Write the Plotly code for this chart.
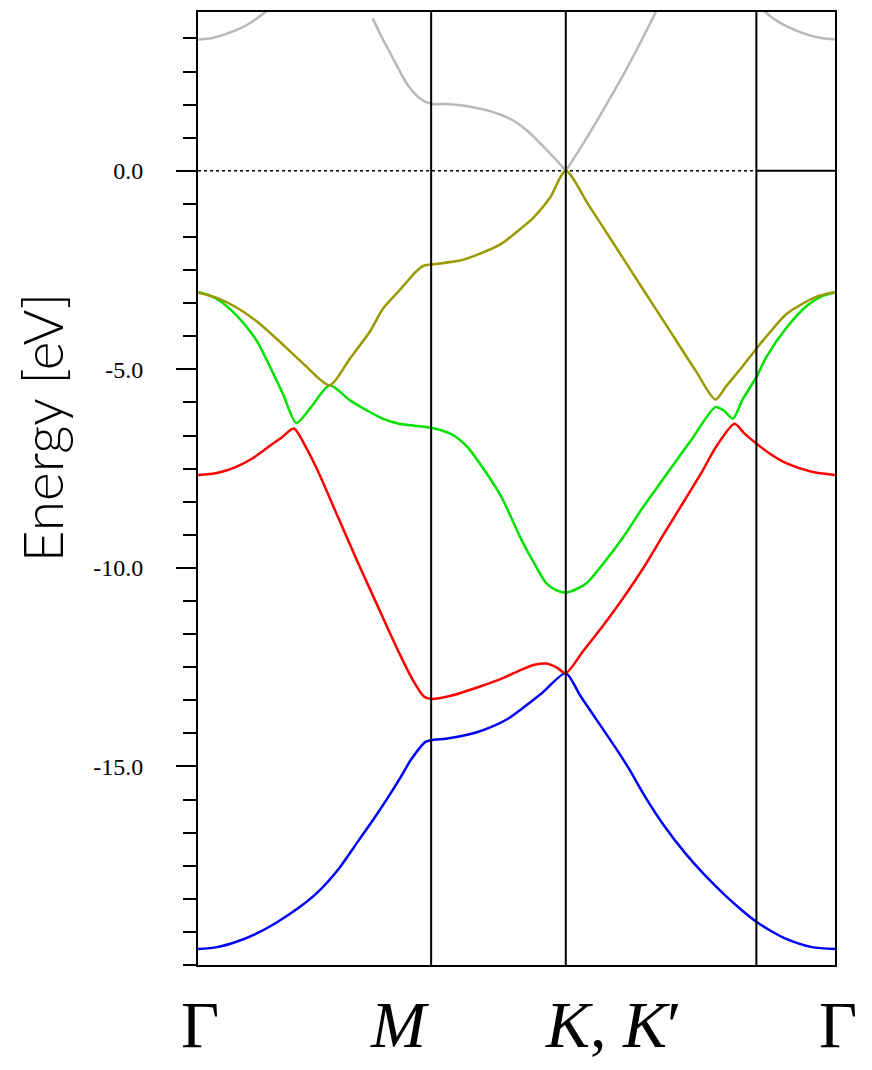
import plotly.graph_objects as go

# ---- k-path positions (Gamma, M, K, extra line, Gamma) ----
k_sym = [0.0, 0.866, 1.366, 2.074, 2.366]
sym_labels = ["Γ", "<i>M</i>", "<i>K</i>, <i>K</i>′", "Γ"]

# ---- bands (k, energy in eV) ----
blue_k = [0.0, 0.07, 0.14, 0.22, 0.292, 0.37, 0.444, 0.52, 0.595, 0.65, 0.701, 0.75, 0.792, 0.845, 0.866,
          0.92, 0.974, 1.03, 1.081, 1.156, 1.202, 1.278, 1.366,
          1.42, 1.48, 1.55, 1.60, 1.657, 1.73, 1.808, 1.88, 1.96, 2.02, 2.074, 2.13, 2.187, 2.28, 2.366]
blue_E = [-19.60, -19.55, -19.42, -19.20, -18.93, -18.58, -18.17, -17.60, -16.88, -16.35, -15.83, -15.30, -14.82, -14.38, -14.34,
          -14.30, -14.24, -14.15, -14.03, -13.78, -13.55, -13.15, -12.65,
          -13.22, -13.82, -14.52, -15.05, -15.72, -16.48, -17.17, -17.72, -18.26, -18.62, -18.91, -19.15, -19.35, -19.55, -19.60]

red_k = [0.0, 0.07, 0.14, 0.20, 0.262, 0.31, 0.356, 0.40, 0.444, 0.52, 0.595, 0.67, 0.747, 0.80, 0.838, 0.866,
         0.95, 1.05, 1.13, 1.202, 1.25, 1.293, 1.33, 1.366,
         1.43, 1.505, 1.58, 1.657, 1.73, 1.808, 1.87, 1.929, 1.993, 2.03, 2.074, 2.13, 2.187, 2.28, 2.366]
red_E = [-7.66, -7.61, -7.46, -7.25, -6.95, -6.72, -6.49, -6.95, -7.54, -8.72, -9.88, -11.00, -12.14, -12.85, -13.23, -13.30,
         -13.20, -12.98, -12.78, -12.56, -12.44, -12.41, -12.50, -12.65,
         -12.10, -11.45, -10.75, -9.97, -9.15, -8.29, -7.60, -6.90, -6.37, -6.62, -6.87, -7.15, -7.37, -7.58, -7.66]

green_k = [0.0, 0.04, 0.08, 0.125, 0.171, 0.22, 0.262, 0.315, 0.365, 0.42, 0.489, 0.565, 0.626, 0.686, 0.747, 0.792, 0.866,
           0.944, 1.0, 1.05, 1.126, 1.202, 1.25, 1.293, 1.33, 1.366,
           1.40, 1.444, 1.51, 1.581, 1.65, 1.733, 1.83, 1.922, 1.955, 1.987, 2.021, 2.074, 2.111, 2.187, 2.263, 2.32, 2.366]
green_E = [-3.06, -3.13, -3.27, -3.52, -3.85, -4.30, -4.86, -5.61, -6.35, -5.95, -5.40, -5.78, -6.03, -6.24, -6.37, -6.41, -6.47,
           -6.64, -6.95, -7.40, -8.20, -9.30, -9.90, -10.38, -10.56, -10.62,
           -10.55, -10.38, -9.85, -9.21, -8.50, -7.71, -6.80, -5.95, -6.05, -6.24, -5.78, -5.19, -4.69, -3.94, -3.39, -3.15, -3.06]

olive_k = [0.0, 0.07, 0.14, 0.22, 0.292, 0.39, 0.489, 0.565, 0.641, 0.686, 0.747, 0.808, 0.838, 0.866,
           0.974, 1.05, 1.126, 1.2, 1.247, 1.308, 1.366,
           1.45, 1.55, 1.65, 1.75, 1.85, 1.922, 1.96, 2.021, 2.074, 2.13, 2.187, 2.293, 2.366]
olive_E = [-3.06, -3.20, -3.43, -3.80, -4.23, -4.85, -5.40, -4.72, -4.02, -3.48, -3.02, -2.55, -2.39, -2.36,
           -2.26, -2.08, -1.84, -1.45, -1.17, -0.67, 0.0,
           -0.85, -1.90, -2.95, -4.00, -5.05, -5.76, -5.44, -4.94, -4.48, -4.02, -3.60, -3.18, -3.06]

grey1_k = [0.0, 0.05, 0.110, 0.16, 0.2, 0.254]
grey1_E = [3.31, 3.34, 3.46, 3.60, 3.75, 4.02]
grey2_k = [0.649, 0.68, 0.717, 0.75, 0.777, 0.823, 0.866, 0.92, 0.974, 1.03, 1.081, 1.13, 1.172, 1.22, 1.263, 1.323, 1.366]
grey2_E = [3.84, 3.40, 2.93, 2.50, 2.18, 1.83, 1.69, 1.68, 1.65, 1.59, 1.51, 1.40, 1.26, 1.03, 0.75, 0.33, 0.0]
grey3_k = [1.366, 1.43, 1.505, 1.55, 1.596, 1.65, 1.702]
grey3_E = [0.0, 0.68, 1.53, 2.06, 2.62, 3.32, 4.02]
grey4_k = [2.104, 2.14, 2.187, 2.263, 2.32, 2.366]
grey4_E = [4.02, 3.82, 3.64, 3.43, 3.34, 3.31]

y_major = [-20, -15, -10, -5, 0]
y_major_text = ["", "-15.0", "-10.0", "-5.0", "0.0"]
y_minor = [-20 + i * 5 / 6 for i in range(29)]

fig = go.Figure()

GREY = "rgb(185,185,185)"
for kk, ee, col in [
    (grey1_k, grey1_E, GREY), (grey2_k, grey2_E, GREY), (grey3_k, grey3_E, GREY), (grey4_k, grey4_E, GREY),
    (blue_k, blue_E, "rgb(0,0,255)"), (red_k, red_E, "rgb(255,0,0)"),
    (green_k, green_E, "rgb(0,225,0)"), (olive_k, olive_E, "rgb(153,153,0)"),
]:
    fig.add_trace(go.Scatter(x=kk, y=ee, mode="lines",
                             line=dict(color=col, width=2.5, shape="spline", smoothing=0.7),
                             showlegend=False, hoverinfo="skip"))

# vertical lines at high-symmetry points
for kv in k_sym[1:4]:
    fig.add_shape(type="line", xref="x", yref="paper", x0=kv, x1=kv, y0=0, y1=1,
                  line=dict(color="black", width=2), layer="above")
# Fermi level line
fig.add_shape(type="line", xref="x", yref="y", x0=k_sym[0], x1=k_sym[3], y0=0, y1=0,
              line=dict(color="black", width=1.5, dash="dot"), layer="below")
fig.add_shape(type="line", xref="x", yref="y", x0=k_sym[3], x1=k_sym[4], y0=0, y1=0,
              line=dict(color="black", width=2), layer="below")

L, R, T, B = 198, 37, 10, 105
W, H = 872, 1070
pw, ph = W - L - R, H - T - B

def px_x(p):
    return (p - L) / pw

def px_y(p):
    return (H - B - p) / ph

label_px = [200, 400, 613, 838]
for lab, xp in zip(sym_labels, label_px):
    fig.add_annotation(text=lab, xref="paper", yref="paper", x=px_x(xp), y=px_y(1025),
                       xanchor="center", yanchor="middle", showarrow=False,
                       font=dict(family="Liberation Serif, Times New Roman, serif", size=66, color="black"))

fig.add_annotation(text="Energy [eV]", xref="paper", yref="paper", x=px_x(42), y=px_y(427),
                   xanchor="center", yanchor="middle", textangle=-90, showarrow=False,
                   font=dict(family="Lato, Inter, sans-serif", size=55, color="black", weight=300))

fig.update_layout(
    width=W, height=H,
    margin=dict(l=L, r=R, t=T, b=B, pad=0),
    paper_bgcolor="white", plot_bgcolor="white",
    xaxis=dict(range=[k_sym[0], k_sym[-1]], showgrid=False, zeroline=False,
               showline=True, mirror=True, linecolor="black", linewidth=2,
               showticklabels=False, ticks=""),
    yaxis=dict(range=[-20, 4], showgrid=False, zeroline=False,
               showline=True, mirror=True, linecolor="black", linewidth=2,
               tickmode="array", tickvals=y_major, ticktext=y_major_text,
               ticks="outside", ticklen=20, tickwidth=2, tickcolor="black",
               ticklabelstandoff=28,
               tickfont=dict(family="Liberation Serif, Times New Roman, serif", size=24, color="black"),
               minor=dict(tickmode="array", tickvals=y_minor, ticks="outside", ticklen=13,
                          tickwidth=2, tickcolor="black")),
)

fig.write_html("out.html")
